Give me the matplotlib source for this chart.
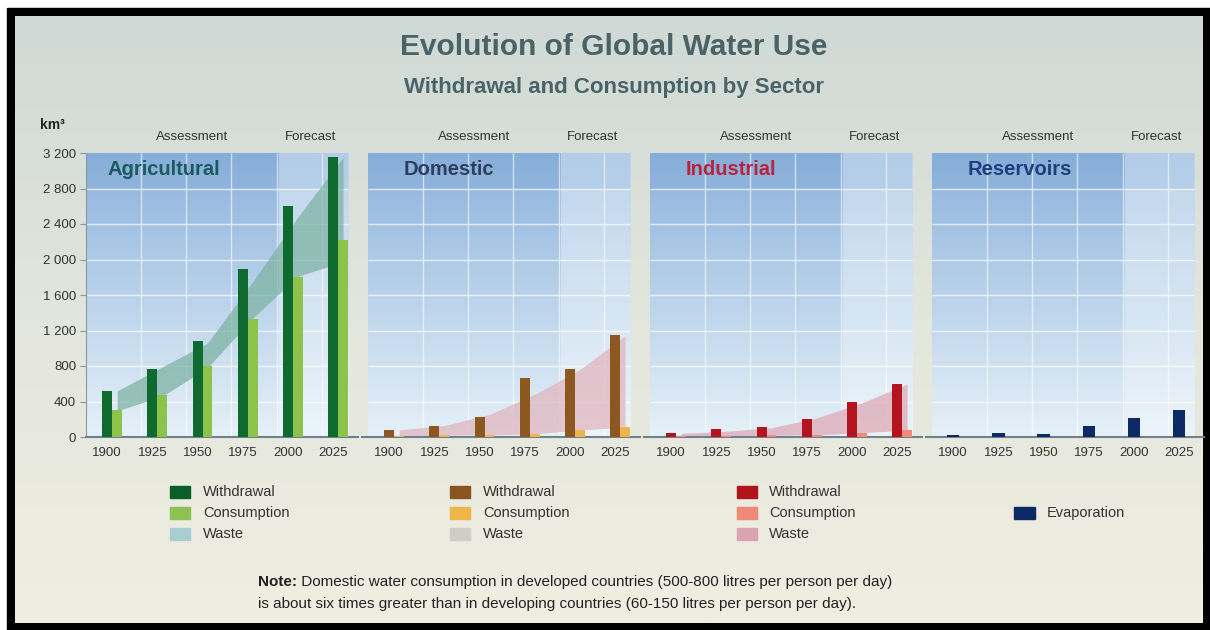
import numpy as np
import matplotlib
matplotlib.use('Agg')
import matplotlib.pyplot as plt
from matplotlib import font_manager
from matplotlib.colors import LinearSegmentedColormap
from matplotlib.patches import Rectangle

# data (km3)
years = ['1900', '1925', '1950', '1975', '2000', '2025']
sector_names = ['Agricultural', 'Domestic', 'Industrial', 'Reservoirs']

agri_withdrawal = [520, 770, 1080, 1890, 2600, 3150]
agri_consumption = [300, 470, 800, 1330, 1800, 2220]
agri_waste_top = [520, 790, 1060, 1750, 2480, 3150]
agri_waste_bottom = [295, 460, 780, 1340, 1810, 1975]

dom_withdrawal = [80, 125, 230, 665, 765, 1150]
dom_consumption = [15, 20, 25, 35, 80, 110]
dom_waste_top = [80, 130, 255, 480, 760, 1140]

ind_withdrawal = [45, 86, 112, 198, 397, 602]
ind_consumption = [10, 15, 20, 25, 50, 75]
ind_waste_top = [40, 65, 105, 215, 385, 595]

res_evaporation = [25, 40, 30, 120, 215, 300]

legend_labels = ['Withdrawal', 'Consumption', 'Waste']

W, H = 1210, 630
plt.rcParams['font.family'] = ['Liberation Sans', 'DejaVu Sans']
names = {f.name for f in font_manager.fontManager.ttflist}
if 'Liberation Sans Narrow' in names:
    head_font, title_size, sub_size = 'Liberation Sans Narrow', 26, 19.5
else:
    head_font, title_size, sub_size = 'Liberation Sans', 21.5, 16

fig = plt.figure(figsize=(W / 100, H / 100), dpi=100)
fig.patch.set_facecolor('white')


def fx(px):
    return px / W


def fy(py):
    return 1 - py / H


# black frame and page gradient
fig.add_artist(Rectangle((fx(7), 0), 1 - fx(7), fy(8), transform=fig.transFigure,
                         color='black', zorder=-10))
page = fig.add_axes([fx(15), fy(623), fx(1203) - fx(15), fy(16) - fy(623)], zorder=-5)
page_cmap = LinearSegmentedColormap.from_list('page', ['#f0eee1', '#e3e6dc', '#cfd9d5'])
page.imshow(np.linspace(0, 1, 256).reshape(-1, 1), cmap=page_cmap, origin='lower',
            aspect='auto', extent=(0, 1, 0, 1))
page.axis('off')

# titles
title_col = '#4b6367'
fig.text(fx(614), fy(47), 'Evolution of Global Water Use', ha='center', va='center',
         fontsize=title_size, fontweight='bold', color=title_col, family=head_font)
fig.text(fx(614), fy(88), 'Withdrawal and Consumption by Sector', ha='center', va='center',
         fontsize=sub_size, fontweight='bold', color=title_col, family=head_font)
fig.text(fx(52), fy(125), 'km³', ha='center', va='center', fontsize=10,
         fontweight='bold', color='#222222')

# panel geometry
bg_left = [86, 368, 650, 932]
x0, x1, split = -0.47, 5.33, 3.8
unit = 262 / (x1 - x0)
pos = np.arange(len(years))
bw = 0.22

title_cols = ['#1b5a60', '#2d3f5e', '#b8243d', '#1d3f7e']
ass_cmap = LinearSegmentedColormap.from_list('ass', ['#e6f1f8', '#b9d2ea', '#8db2dc'])
fc_cmap = LinearSegmentedColormap.from_list('fc', ['#ecf4f9', '#d3e3f2', '#bfd5ed'])

bars = [
    (agri_withdrawal, agri_consumption, agri_waste_bottom, agri_waste_top,
     ['#0f6a2f', '#8dc24b', '#7fb3a5']),
    (dom_withdrawal, dom_consumption, dom_consumption, dom_waste_top,
     ['#8d5820', '#eeb54a', '#e0b6bf']),
    (ind_withdrawal, ind_consumption, ind_consumption, ind_waste_top,
     ['#b3141f', '#f08a78', '#ddaab6']),
]

for k, name in enumerate(sector_names):
    padl = 0 if k == 0 else 0.13
    padr = 0.22
    left_px = bg_left[k] - padl * unit
    width_px = (x1 - x0 + padl + padr) * unit
    ax = fig.add_axes([fx(left_px), fy(437), width_px / W, fy(153) - fy(437)])
    ax.set_facecolor('none')

    grad = np.linspace(0, 1, 256).reshape(-1, 1)
    ax.imshow(grad, cmap=ass_cmap, origin='lower', aspect='auto',
              extent=(x0, split, 0, 3200), zorder=0)
    ax.imshow(grad, cmap=fc_cmap, origin='lower', aspect='auto',
              extent=(split, x1, 0, 3200), zorder=0)
    ax.fill_between([x0, x1], 2800, 3200, color='#5d8fc8', alpha=0.12, lw=0, zorder=0.5)

    ax.hlines(np.arange(400, 3200, 400), x0, x1, color='white', lw=1, alpha=0.7, zorder=1)
    ax.vlines(pos[:-1] + 0.75, 0, 3200, color='white', lw=1, alpha=0.6, zorder=1)

    if k < 3:
        wd, cons, wlow, wtop, cols = bars[k]
        ax.fill_between(pos + bw, wlow, wtop, color=cols[2], alpha=0.75, lw=0, zorder=2)
        ax.bar(pos, wd, width=bw, color=cols[0], zorder=3)
        ax.bar(pos + bw, cons, width=bw, color=cols[1], zorder=3)
    else:
        ax.bar(pos, res_evaporation, width=0.27, color='#0c2a63', zorder=3)

    ax.text(x0 + (22 if k == 0 else 36) / unit, 3010, name, ha='left', va='center',
            fontsize=14.5, fontweight='bold', color=title_cols[k], zorder=4)
    ax.text(1.88, 3380, 'Assessment', ha='center', va='center', fontsize=9.5,
            color='#333333', clip_on=False)
    ax.text(4.5, 3380, 'Forecast', ha='center', va='center', fontsize=9.5,
            color='#333333', clip_on=False)

    ax.set_xlim(x0 - padl, x1 + padr)
    ax.set_ylim(0, 3200)
    ax.set_xticks(pos)
    ax.set_xticklabels(years)
    ax.tick_params(axis='x', length=0, pad=7, labelsize=9.5, labelcolor='#333333')
    for s in ['top', 'right']:
        ax.spines[s].set_visible(False)
    ax.spines['bottom'].set_color('#6f8191')
    ax.spines['bottom'].set_linewidth(1.5)
    if k == 0:
        ticks = np.arange(0, 3201, 400)
        ax.set_yticks(ticks)
        ax.set_yticklabels([f'{t:,}'.replace(',', ' ') for t in ticks])
        ax.tick_params(axis='y', length=4, color='#8a97a3', labelsize=9.5,
                       labelcolor='#333333', pad=3)
        ax.spines['left'].set_color('#8a97a3')
    else:
        ax.set_yticks([])
        ax.spines['left'].set_visible(False)

# legend
leg_cols = [
    ['#0b5e2a', '#8dc153', '#a7cfd0'],
    ['#8a5620', '#eeb54a', '#cfcdc5'],
    ['#b0141d', '#f08a78', '#d9a3b0'],
]
sq_x = [170, 450, 737]
txt_x = [203, 483, 769]
rows = [492, 513, 534]
for g in range(3):
    for r, lab in enumerate(legend_labels):
        fig.add_artist(Rectangle((fx(sq_x[g]), fy(rows[r] + 6)), 20 / W, 12 / H,
                                 transform=fig.transFigure, color=leg_cols[g][r], zorder=5))
        fig.text(fx(txt_x[g]), fy(rows[r]), lab, ha='left', va='center', fontsize=10.5,
                 color='#333333')
fig.add_artist(Rectangle((fx(1014), fy(519)), 21 / W, 12 / H, transform=fig.transFigure,
                         color='#0c2a63', zorder=5))
fig.text(fx(1047), fy(513), 'Evaporation', ha='left', va='center', fontsize=10.5,
         color='#333333')

# note
note = fig.text(fx(258), fy(589), 'Note:', ha='left', va='bottom', fontsize=11,
                fontweight='bold', color='#222222')
page.annotate(' Domestic water consumption in developed countries (500-800 litres per person per day)',
              xy=(1, 0), xycoords=note, ha='left', va='bottom', fontsize=11,
              color='#222222', annotation_clip=False)
fig.text(fx(258), fy(611), 'is about six times greater than in developing countries '
         '(60-150 litres per person per day).', ha='left', va='bottom', fontsize=11,
         color='#222222')

fig.savefig('out.png', dpi=100, facecolor=fig.get_facecolor())
